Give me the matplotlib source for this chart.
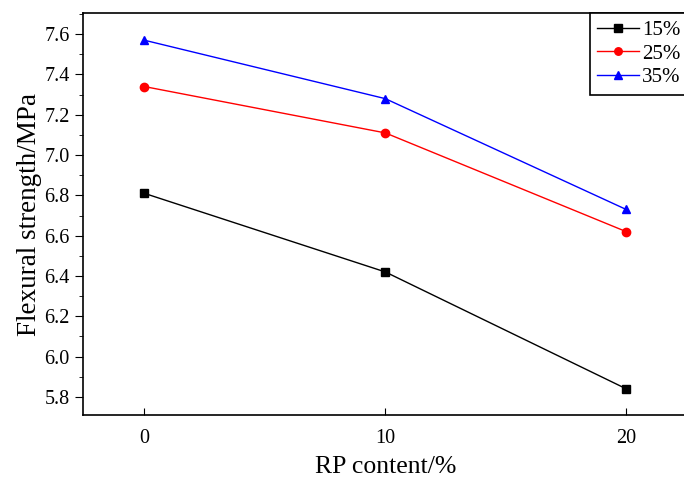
import numpy as np
import matplotlib.pyplot as plt
from matplotlib.ticker import MultipleLocator

plt.rcParams['font.family'] = ['Liberation Serif', 'DejaVu Serif']

# datos
rp_content = [0, 10, 20]
s15 = [6.81, 6.42, 5.84]
s25 = [7.34, 7.11, 6.62]
s35 = [7.57, 7.28, 6.73]
series_labels = ['15%', '25%', '35%']

fig = plt.figure(figsize=(6.84, 4.82), dpi=100)
ax = fig.add_axes([0.1213, 0.139, 0.884, 0.834])

ax.plot(rp_content, s15, color='black', marker='s', markersize=6, lw=1, label=series_labels[0])
ax.plot(rp_content, s25, color='red', marker='o', markersize=6, lw=1, label=series_labels[1])
ax.plot(rp_content, s35, color='blue', marker='^', markersize=6, lw=1, label=series_labels[2])

ax.set_xlim(-2.55, 22.55)
ax.set_ylim(5.71, 7.705)
ax.set_xticks([0, 10, 20])
ax.yaxis.set_major_locator(MultipleLocator(0.2))
ax.yaxis.set_minor_locator(MultipleLocator(0.1))
ax.tick_params(axis='x', direction='in', length=5, labelsize=14.5, pad=10)
ax.tick_params(axis='y', which='major', direction='out', length=6, labelsize=14.5)
ax.tick_params(axis='y', which='minor', direction='out', length=3)
ax.set_yticklabels([f'{v:.1f}' for v in ax.get_yticks()])
for sp in ax.spines.values():
    sp.set_linewidth(1.2)

ax.set_xlabel('RP content/%', fontsize=18.5, labelpad=6)
ax.set_ylabel('Flexural strength/MPa', fontsize=19.5, labelpad=2)

leg = ax.legend(loc='upper right', borderaxespad=0, fontsize=15, fancybox=False,
                edgecolor='black', framealpha=1, handlelength=2.0, handletextpad=0.15,
                labelspacing=0.2, borderpad=0.35, markerscale=0.9)
leg.get_frame().set_linewidth(1.2)

fig.savefig('out.png', dpi=100)
